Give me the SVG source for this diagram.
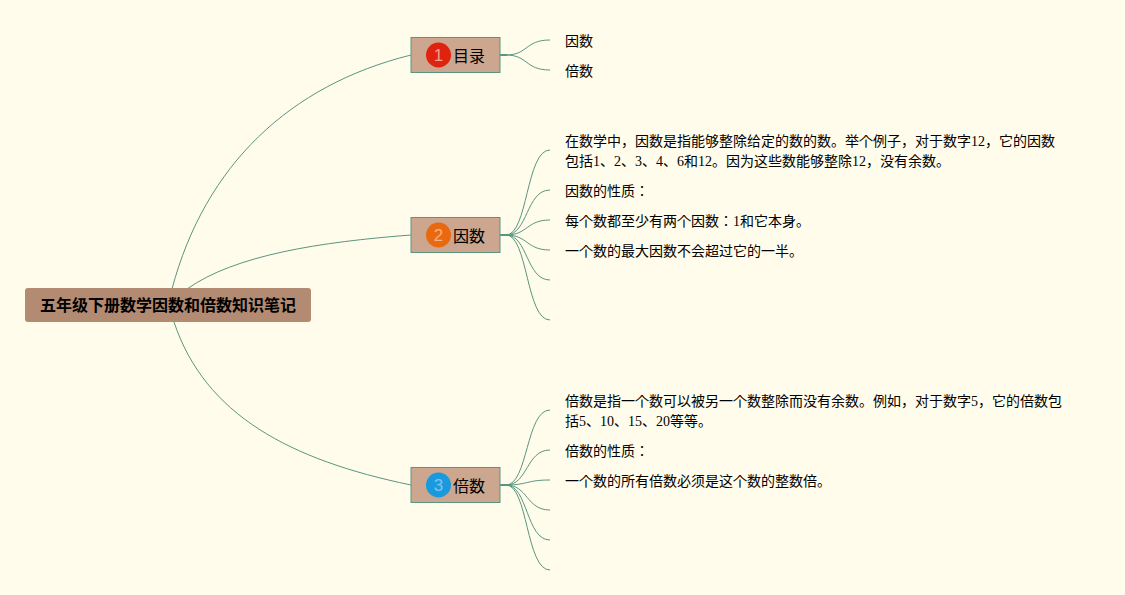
<svg xmlns="http://www.w3.org/2000/svg" width="1125" height="595" viewBox="0 0 1125 595">
<style>
text{font-family:"Liberation Serif","Noto Sans CJK JP",serif;fill:#000}
.leaf{font-size:14px}
.label{font-size:16px}
.title{font-size:16px;font-weight:bold}
.topic{fill:#cca68e;stroke:#5a9580;stroke-width:1}
.num{font-family:"Liberation Sans","Noto Sans",sans-serif;font-size:17px;text-anchor:middle}
.c{fill:none;stroke:#5a9580;stroke-width:1}
.stub{fill:none;stroke:#5a9580;stroke-width:2}
</style>
<rect width="1125" height="595" fill="#fffceb"/>
<g id="connectors">
<path class="c" d="M172 289C205 165 290 85 411 55"/>
<path class="c" d="M187 289C235 255 320 242 411 235"/>
<path class="c" d="M174 322C205 415 290 460 411 485"/>
<path class="stub" d="M500 55H507"/>
<path class="c" d="M506 55C528 55 525 40 550 40"/>
<path class="c" d="M506 55C528 55 525 70 550 70"/>
<path class="stub" d="M500 235H507"/>
<path class="c" d="M506 235C528 235 526 150 550 150"/>
<path class="c" d="M506 235C528 235 526 190 550 190"/>
<path class="c" d="M506 235C528 235 526 220 550 220"/>
<path class="c" d="M506 235C528 235 526 250 550 250"/>
<path class="c" d="M506 235C528 235 526 280 550 280"/>
<path class="c" d="M506 235C528 235 526 320 550 320"/>
<path class="stub" d="M500 485H507"/>
<path class="c" d="M506 485C528 485 526 410 550 410"/>
<path class="c" d="M506 485C528 485 526 450 550 450"/>
<path class="c" d="M506 485C528 485 526 480 550 480"/>
<path class="c" d="M506 485C528 485 526 510 550 510"/>
<path class="c" d="M506 485C528 485 526 540 550 540"/>
<path class="c" d="M506 485C528 485 526 570 550 570"/>
</g>
<g id="root">
<rect x="25" y="288" width="286" height="34" rx="3" fill="#b28b72"/>
<text class="title" x="40" y="311">五年级下册数学因数和倍数知识笔记</text>
</g>
<g id="topic1">
<rect class="topic" x="411" y="37.500" width="89" height="35"/>
<circle cx="438.500" cy="55" r="12.500" fill="#e0230e"/>
<text class="num" x="438.500" y="61" style="fill:#f0a090">1</text>
<text class="label" x="453" y="62">目录</text>
</g>
<g id="topic2">
<rect class="topic" x="411" y="217.500" width="89" height="35"/>
<circle cx="438.500" cy="235" r="12.500" fill="#e8690f"/>
<text class="num" x="438.500" y="241" style="fill:#f5b080">2</text>
<text class="label" x="453" y="242">因数</text>
</g>
<g id="topic3">
<rect class="topic" x="411" y="467.500" width="89" height="35"/>
<circle cx="438.500" cy="485" r="12.500" fill="#1a9ade"/>
<text class="num" x="438.500" y="491" style="fill:#80c4ea">3</text>
<text class="label" x="453" y="492">倍数</text>
</g>
<g id="leaf1-1"><text class="leaf" x="565" y="46">因数</text></g>
<g id="leaf1-2"><text class="leaf" x="565" y="76">倍数</text></g>
<g id="leaf2-1"><text class="leaf" x="565" y="146">在数学中，因数是指能够整除给定的数的数。举个例子，对于数字12，它的因数</text><text class="leaf" x="565" y="166">包括1、2、3、4、6和12。因为这些数能够整除12，没有余数。</text></g>
<g id="leaf2-2"><text class="leaf" x="565" y="196">因数的性质：</text></g>
<g id="leaf2-3"><text class="leaf" x="565" y="226">每个数都至少有两个因数：1和它本身。</text></g>
<g id="leaf2-4"><text class="leaf" x="565" y="256">一个数的最大因数不会超过它的一半。</text></g>
<g id="leaf3-1"><text class="leaf" x="565" y="406">倍数是指一个数可以被另一个数整除而没有余数。例如，对于数字5，它的倍数包</text><text class="leaf" x="565" y="426">括5、10、15、20等等。</text></g>
<g id="leaf3-2"><text class="leaf" x="565" y="456">倍数的性质：</text></g>
<g id="leaf3-3"><text class="leaf" x="565" y="486">一个数的所有倍数必须是这个数的整数倍。</text></g>
</svg>
